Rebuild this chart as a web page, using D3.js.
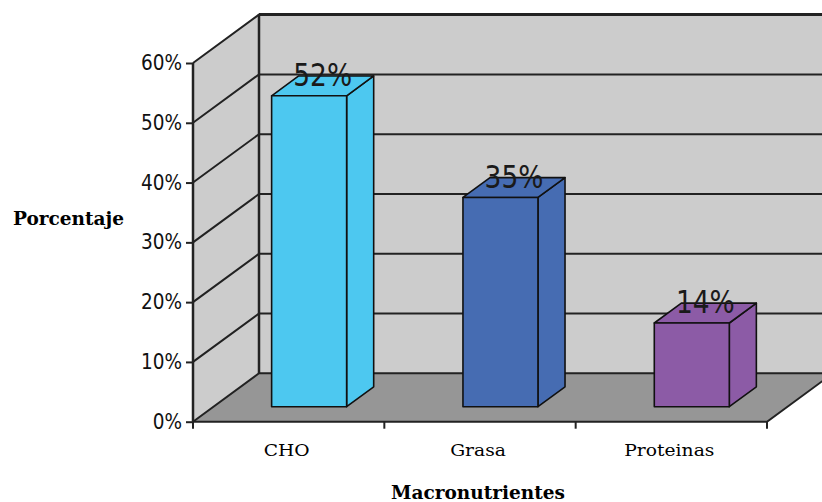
<!DOCTYPE html>
<html>
<head>
<meta charset="utf-8">
<script src="https://cdn.jsdelivr.net/npm/d3@7"></script>
<style>
  html, body { margin: 0; padding: 0; background: #fff; }
  svg { display: block; }
</style>
</head>
<body>
<svg id="chart" width="822" height="502"></svg>
<script>
// Macronutrient shares
const categories = ["CHO", "Grasa", "Proteinas"];
const values = [0.52, 0.35, 0.14];
const valueLabels = ["52%", "35%", "14%"];
const barColors = ["#4dc8f0", "#466cb2", "#8c5ba6"];
const yTicks = [0, 0.1, 0.2, 0.3, 0.4, 0.5, 0.6];

const W = 822, H = 502;
const svg = d3.select("#chart");

// Plot frame (front plane) and oblique depth vector
const plot = { left: 193, right: 767, top: 63, bottom: 421.7 };
const depth = { x: 66, y: -48.4 };
const barFront = 0.31, barBack = 0.72;   // bar position within the depth

const x = d3.scaleBand()
  .domain(categories)
  .range([plot.left, plot.right])
  .paddingInner(0.608)
  .paddingOuter(0.304);

const y = d3.scaleLinear().domain([0, 0.6]).range([plot.bottom, plot.top]);

const line = d3.line();
const ink = "#222";

// Back wall
svg.append("rect")
  .attr("x", plot.left + depth.x).attr("y", y(0.6) + depth.y)
  .attr("width", W).attr("height", y(0) - y(0.6))
  .attr("fill", "#cccccc");

// Left wall
svg.append("path")
  .attr("d", line([
    [plot.left, y(0.6)], [plot.left + depth.x, y(0.6) + depth.y],
    [plot.left + depth.x, y(0) + depth.y], [plot.left, y(0)]
  ]) + "Z")
  .attr("fill", "#cccccc");

// Floor
svg.append("path")
  .attr("d", line([
    [plot.left, y(0)], [plot.right, y(0)],
    [plot.right + depth.x, y(0) + depth.y], [plot.left + depth.x, y(0) + depth.y]
  ]) + "Z")
  .attr("fill", "#969696");

// Gridlines on the left and back walls
const grid = svg.append("g").attr("stroke", ink).attr("stroke-width", 2).attr("fill", "none");
yTicks.forEach(t => {
  grid.append("path").attr("d", line([
    [plot.left, y(t)], [plot.left + depth.x, y(t) + depth.y], [W + 10, y(t) + depth.y]
  ]));
});
// Wall edges
grid.append("path").attr("d", line([[plot.left + depth.x, y(0.6) + depth.y], [W + 10, y(0.6) + depth.y]]))
  .attr("stroke-width", 3);
grid.append("path").attr("d", line([[plot.left + depth.x, y(0.6) + depth.y], [plot.left + depth.x, y(0) + depth.y]]))
  .attr("stroke-width", 2.5);
grid.append("path").attr("d", line([
  [plot.left, y(0)], [plot.right, y(0)], [plot.right + depth.x, y(0) + depth.y]
]));

// Bars as oblique boxes
const back = { x: (barBack - barFront) * depth.x, y: (barBack - barFront) * depth.y };
const bars = svg.append("g").attr("stroke", "#111").attr("stroke-width", 1.6).attr("stroke-linejoin", "round");
categories.forEach((c, i) => {
  const x0 = x(c) + barFront * depth.x;
  const x1 = x0 + x.bandwidth();
  const yb = y(0) + barFront * depth.y;
  const yt = y(values[i]) + barFront * depth.y;
  const g = bars.append("g").attr("fill", barColors[i]);
  // side face
  g.append("path").attr("d", line([[x1, yt], [x1 + back.x, yt + back.y], [x1 + back.x, yb + back.y], [x1, yb]]) + "Z");
  // top face
  g.append("path").attr("d", line([[x0, yt], [x0 + back.x, yt + back.y], [x1 + back.x, yt + back.y], [x1, yt]]) + "Z");
  // front face
  g.append("rect").attr("x", x0).attr("y", yt).attr("width", x1 - x0).attr("height", yb - yt);
});

// Value labels on top of bars
const mid = (barFront + barBack) / 2;
categories.forEach((c, i) => {
  const cx = x(c) + x.bandwidth() / 2 + mid * depth.x;
  const by = y(values[i]) + mid * depth.y;
  svg.append("text")
    .attr("transform", `translate(${cx},${by}) scale(1,1.22)`)
    .attr("text-anchor", "middle")
    .attr("font-family", "DejaVu Sans, sans-serif")
    .attr("font-size", 26.5)
    .attr("fill", "#1a1a1a")
    .text(valueLabels[i]);
});

// Y axis
const yAxis = d3.axisLeft(y).tickValues(yTicks).tickFormat(d3.format(".0%")).tickSize(7).tickPadding(4);
const ya = svg.append("g").attr("transform", `translate(${plot.left},0)`).call(yAxis);
ya.select(".domain").attr("stroke", ink).attr("stroke-width", 2.5).attr("d", `M0,${y(0.6)}V${y(0)}`);
ya.selectAll(".tick line").attr("stroke", ink).attr("stroke-width", 2);
ya.selectAll(".tick text")
  .attr("font-family", "DejaVu Sans, sans-serif")
  .attr("font-size", 18.5)
  .attr("fill", "#111")
  .attr("dy", null)
  .attr("y", 0)
  .attr("transform", "translate(0,6.5) scale(1,1.1)");

// X axis: category labels centred, tick marks on band boundaries
const xAxis = d3.axisBottom(x).tickSize(0).tickPadding(0);
const xa = svg.append("g").attr("transform", `translate(0,${plot.bottom})`).call(xAxis);
xa.select(".domain").remove();
xa.selectAll(".tick text")
  .attr("font-family", "DejaVu Serif, serif")
  .attr("font-size", 17)
  .attr("fill", "#000")
  .attr("dy", null)
  .attr("y", 0)
  .attr("transform", "translate(-2,34) scale(1.1,1)");
const step = x.step();
d3.range(categories.length + 1).forEach(k => {
  const tx = plot.left + k * step;
  svg.append("line")
    .attr("x1", tx).attr("x2", tx)
    .attr("y1", plot.bottom).attr("y2", plot.bottom + 7)
    .attr("stroke", ink).attr("stroke-width", 2);
});

// Axis titles
svg.append("text")
  .attr("x", 13).attr("y", 225)
  .attr("font-family", "DejaVu Serif, serif").attr("font-weight", "bold")
  .attr("font-size", 18.5).attr("fill", "#000")
  .text("Porcentaje");
svg.append("text")
  .attr("x", 478).attr("y", 499)
  .attr("text-anchor", "middle")
  .attr("font-family", "DejaVu Serif, serif").attr("font-weight", "bold")
  .attr("font-size", 18.5).attr("fill", "#000")
  .text("Macronutrientes");
</script>
</body>
</html>
